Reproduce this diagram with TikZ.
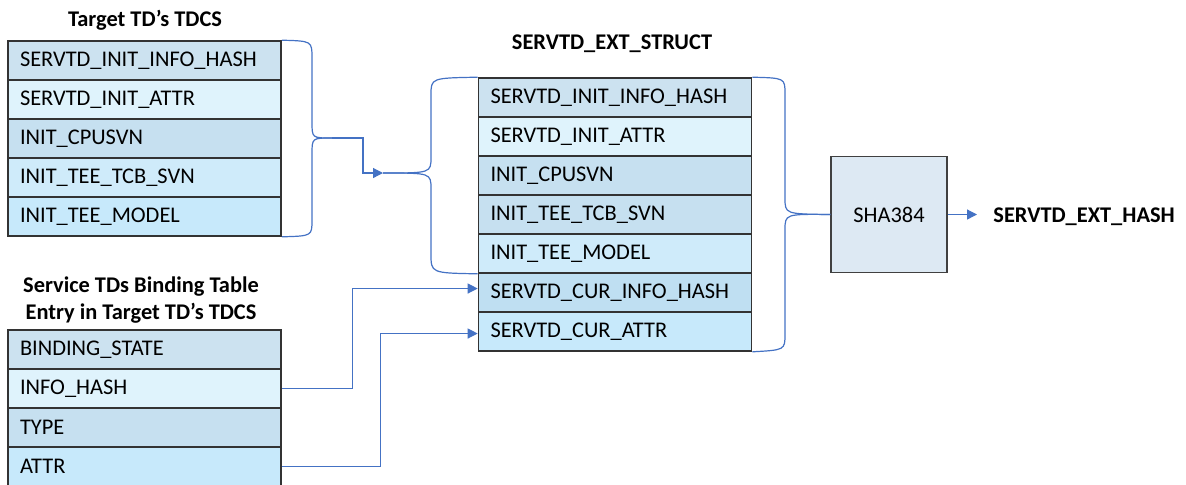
\documentclass[tikz,border=0pt]{standalone}
\usepackage{fontspec}
\setmainfont{Carlito}
\usetikzlibrary{arrows.meta}
\definecolor{linkblue}{RGB}{68,114,196}
\definecolor{rowA}{HTML}{CCE2F0}
\definecolor{rowB}{HTML}{DFF3FC}
\definecolor{rowC}{HTML}{C6E0F0}
\definecolor{rowD}{HTML}{CFEBFA}
\definecolor{rowE}{HTML}{C7E9FB}
\definecolor{rowF}{HTML}{BFDFF2}
\definecolor{hashfill}{HTML}{DDE9F3}

\begin{document}
\begin{tikzpicture}[x=0.5pt, y=-0.5pt,
  field/.style={draw=black!80, line width=0.8pt, text width=124.5pt, inner xsep=6pt,
    inner ysep=0pt, minimum height=19.5pt, align=left, font=\fontsize{11.2}{13.5}\selectfont},
  title/.style={font=\fontsize{11.2}{13.5}\selectfont\bfseries, align=center},
  hashbox/.style={draw=black!75, line width=0.6pt, fill=hashfill, minimum size=58pt,
    font=\fontsize{11.2}{13.5}\selectfont},
  brace/.style={draw=linkblue, line width=0.6pt},
  link/.style={draw=linkblue, line width=0.6pt, -{Triangle[length=5pt,width=5pt]}}]

\useasboundingbox (0,0) rectangle (1186,484);

% Target TD's TDCS
\node[title] (ttl1) at (145,20) {Target TD’s TDCS};
\foreach \lbl/\col [count=\i] in {SERVTD\_INIT\_INFO\_HASH/rowA, SERVTD\_INIT\_ATTR/rowB,
    INIT\_CPUSVN/rowC, INIT\_TEE\_TCB\_SVN/rowD, INIT\_TEE\_MODEL/rowE} {
  \node[field, fill=\col] (t\i) at (144.5, 21.5+39*\i) {\lbl};
}

% SERVTD_EXT_STRUCT
\node[title] (ttl2) at (612,44) {SERVTD\_EXT\_STRUCT};
\foreach \lbl/\col [count=\i] in {SERVTD\_INIT\_INFO\_HASH/rowA, SERVTD\_INIT\_ATTR/rowB,
    INIT\_CPUSVN/rowC, INIT\_TEE\_TCB\_SVN/rowC, INIT\_TEE\_MODEL/rowD,
    SERVTD\_CUR\_INFO\_HASH/rowF, SERVTD\_CUR\_ATTR/rowE} {
  \node[field, fill=\col] (s\i) at (615, 58.5+39*\i) {\lbl};
}

% Binding table entry
\node[title] (ttl3) at (141,300) {Service TDs Binding Table\\Entry in Target TD’s TDCS};
\foreach \lbl/\col [count=\i] in {BINDING\_STATE/rowA, INFO\_HASH/rowB,
    TYPE/rowC, ATTR/rowE} {
  \node[field, fill=\col] (b\i) at (144.5, 310.5+39*\i) {\lbl};
}

% Hash
\node[hashbox] (hash) at (889,214.5) {SHA384};
\node[title, anchor=west, inner sep=0pt] (out) at (993,217) {SERVTD\_EXT\_HASH};

% Braces
\coordinate (joinA) at (332,138);
\coordinate (joinB) at (383,173);
\draw[brace] (t1.north east) .. controls (312,41) .. (312,58) -- (312,122)
  .. controls (312,138) .. (joinA);
\draw[brace] (joinA) .. controls (312,138) .. (312,154) -- (312,220)
  .. controls (312,236) .. (t5.south east);
\draw[brace] (joinB) .. controls (431,173) .. (431,157) -- (431,95)
  .. controls (431,78) .. (s1.north west);
\draw[brace] (joinB) .. controls (431,173) .. (431,189) -- (431,254)
  .. controls (431,273) .. (s5.south west);
\draw[brace] (s1.north east) .. controls (785,78) .. (785,94) -- (785,198)
  .. controls (785,214) .. (hash.west);
\draw[brace] (hash.west) .. controls (785,214) .. (785,230) -- (785,334)
  .. controls (785,350) .. (s7.south east);

% Connectors
\draw[link] (joinA) -- ++(31,0) |- (joinB);
\draw[link] (b2.east) -- ++(71,0) |- ([yshift=2pt]s6.west);
\draw[link] (b4.east) -- ++(99,0) |- ([yshift=-1pt]s7.west);
\draw[link, shorten >=8pt] (hash.east) -- (hash.east -| out.west);

\end{tikzpicture}
\end{document}
